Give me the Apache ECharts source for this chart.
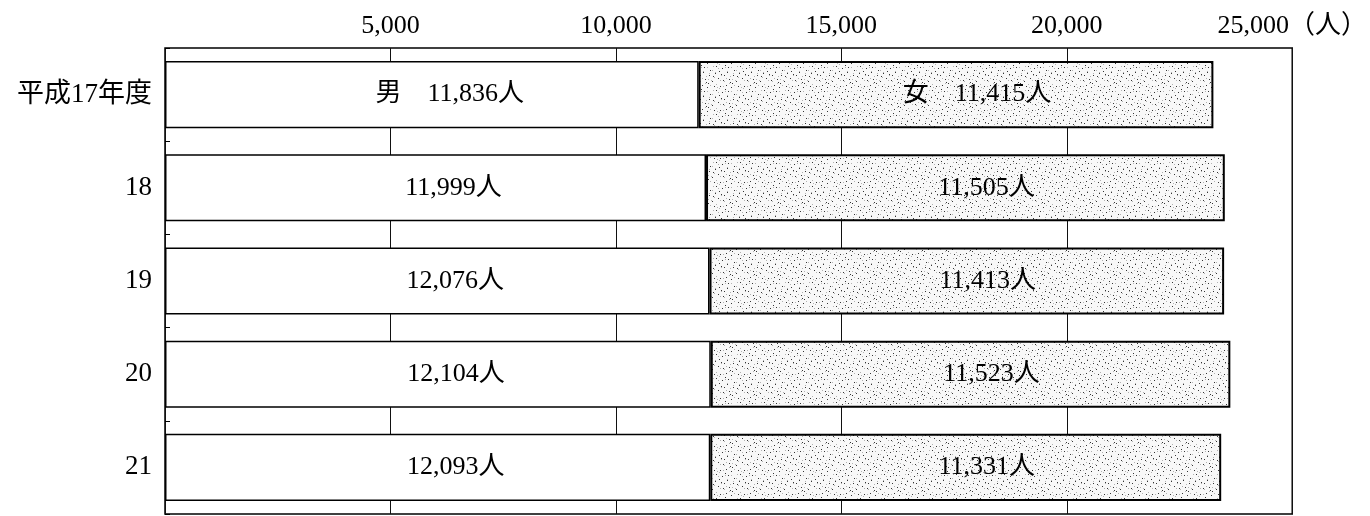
<!DOCTYPE html>
<html>
<head>
<meta charset="utf-8">
<script src="https://cdn.jsdelivr.net/npm/echarts@6/dist/echarts.min.js"></script>
<style>
  html, body { margin: 0; padding: 0; background: #fff; }
  #chart { width: 1370px; height: 516px; }
</style>
</head>
<body>
<div id="chart"></div>
<script>
const years = ['平成17年度', '18', '19', '20', '21']
const maleCounts = [11836, 11999, 12076, 12104, 12093]
const femaleCounts = [11415, 11505, 11413, 11523, 11331]
const xTicks = [5000, 10000, 15000, 20000, 25000]

const font = '"Liberation Serif", "Noto Sans CJK JP", serif'

// speckled fill for the 女 bars
function makeSpeckle() {
  const c = document.createElement('canvas')
  c.width = 24
  c.height = 24
  const ctx = c.getContext('2d')
  ctx.fillStyle = '#f8f8f8'
  ctx.fillRect(0, 0, 24, 24)
  const dots = [
    [1, 2], [7, 0], [13, 3], [19, 1], [3, 8], [9, 7], [16, 9], [22, 6],
    [0, 14], [6, 13], [11, 15], [18, 14], [2, 20], [8, 19], [14, 22], [20, 18],
    [10, 10], [17, 4], [5, 17], [23, 23], [12, 11], [4, 3]
  ]
  ctx.fillStyle = 'rgba(20,20,20,0.85)'
  dots.forEach((d) => ctx.fillRect(d[0], d[1], 1, 1))
  ctx.fillStyle = 'rgba(110,110,110,0.5)'
  dots.forEach((d) => ctx.fillRect((d[0] + 11) % 24, (d[1] + 5) % 24, 1, 1))
  return c
}

const fmt = (v) => v.toLocaleString('en-US')

const chart = echarts.init(document.getElementById('chart'))
chart.setOption({
  animation: false,
  grid: { left: 165, right: 77, top: 48, bottom: 2, show: true, borderColor: '#000', borderWidth: 1.5 },
  xAxis: {
    type: 'value',
    position: 'top',
    min: 0,
    max: 25000,
    interval: 5000,
    axisLine: { show: false },
    axisTick: { show: false },
    splitLine: { lineStyle: { color: '#111', width: 1 } },
    axisLabel: {
      margin: 9,
      fontSize: 26,
      fontFamily: font,
      color: '#000',
      formatter: (v) => {
        if (v === 0 || xTicks.indexOf(v) < 0) return ''
        return v === 25000 ? fmt(v) + '（人）' : fmt(v)
      }
    }
  },
  yAxis: {
    type: 'category',
    inverse: true,
    data: years,
    axisLine: { show: false },
    axisTick: { show: true, inside: true, length: 5, lineStyle: { color: '#000' } },
    axisLabel: { margin: 13, fontSize: 27, fontFamily: font, color: '#000' }
  },
  series: [
    {
      name: '男',
      type: 'bar',
      stack: 'total',
      barWidth: '72%',
      data: maleCounts,
      itemStyle: { color: '#fff', borderColor: '#000', borderWidth: 1.5 },
      label: {
        show: true,
        position: 'inside',
        offset: [18, 0],
        fontSize: 26,
        fontFamily: font,
        color: '#000',
        formatter: (p) => (p.dataIndex === 0 ? '男　' : '') + fmt(p.value) + '人'
      }
    },
    {
      name: '女',
      type: 'bar',
      stack: 'total',
      barWidth: '72%',
      data: femaleCounts,
      itemStyle: {
        color: { image: makeSpeckle(), repeat: 'repeat' },
        borderColor: '#000',
        borderWidth: 2
      },
      label: {
        show: true,
        position: 'inside',
        offset: [21, 0],
        fontSize: 26,
        fontFamily: font,
        color: '#000',
        formatter: (p) => (p.dataIndex === 0 ? '女　' : '') + fmt(p.value) + '人'
      }
    }
  ]
})
</script>
</body>
</html>
